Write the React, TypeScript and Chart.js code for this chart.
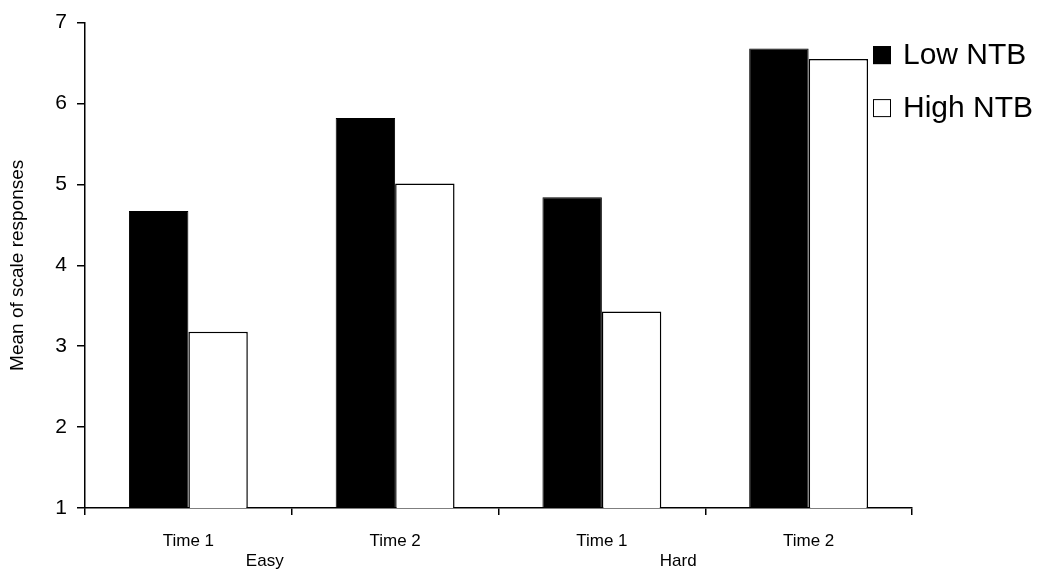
import React, { useEffect, useRef } from 'react';
import { Chart, registerables } from 'chart.js';

Chart.register(...registerables);

const categories = ['Time 1', 'Time 2', 'Time 1', 'Time 2'];
const seriesNames = ['Low NTB', 'High NTB'];
const lowNTB = [4.67, 5.82, 4.84, 6.68];
const highNTB = [3.18, 5.01, 3.43, 6.55];
const seriesColors = ['#000000', '#ffffff'];
const groupLabels = ['Easy', 'Hard'];
const groupSpans = [
  [0, 1],
  [2, 3],
];
const yTicks = [1, 2, 3, 4, 5, 6, 7];
const yTitle = 'Mean of scale responses';

const FONT = '"Liberation Sans", Arial, Helvetica, sans-serif';

const overlayPlugin = {
  id: 'overlay',
  afterDraw(chart: any) {
    const ctx = chart.ctx as CanvasRenderingContext2D;
    const xs = chart.scales.x;
    const area = chart.chartArea;
    ctx.save();
    // group labels under the category labels
    ctx.fillStyle = '#000';
    ctx.font = `17px ${FONT}`;
    ctx.textAlign = 'center';
    ctx.textBaseline = 'middle';
    groupLabels.forEach((g, i) => {
      const [a, b] = groupSpans[i];
      const cx = (xs.getPixelForValue(a) + xs.getPixelForValue(b)) / 2 - 27;
      ctx.fillText(g, cx, xs.bottom - 10);
    });
    // legend at the top right
    ctx.font = `30px ${FONT}`;
    ctx.textAlign = 'left';
    const boxX = area.right - 39;
    chart.data.datasets.forEach((ds: any, i: number) => {
      const cy = area.top + 32 + i * 53;
      ctx.fillStyle = ds.backgroundColor;
      ctx.fillRect(boxX, cy - 8.5, 18, 18);
      ctx.strokeStyle = '#000';
      ctx.lineWidth = 1;
      ctx.strokeRect(boxX + 0.5, cy - 8, 17, 17);
      ctx.fillStyle = '#000';
      ctx.fillText(ds.label, boxX + 30, cy + 1);
    });
    ctx.restore();
  },
};

export default function App() {
  const canvasRef = useRef<HTMLCanvasElement | null>(null);

  useEffect(() => {
    const canvas = canvasRef.current;
    if (!canvas) return;
    const chart = new Chart(canvas, {
      type: 'bar',
      data: {
        labels: categories,
        datasets: [
          {
            label: seriesNames[0],
            data: lowNTB,
            backgroundColor: seriesColors[0],
            borderColor: '#000',
            borderWidth: 1,
          },
          {
            label: seriesNames[1],
            data: highNTB,
            backgroundColor: seriesColors[1],
            borderColor: '#000',
            borderWidth: 1.5,
          },
        ],
      },
      options: {
        responsive: false,
        animation: false,
        devicePixelRatio: 1,
        layout: { padding: { top: 20, right: 135, left: 0, bottom: 0 } },
        datasets: {
          bar: { barPercentage: 1, categoryPercentage: 0.575 },
        },
        plugins: {
          legend: { display: false },
          tooltip: { enabled: false },
        },
        scales: {
          x: {
            offset: true,
            grid: {
              display: true,
              offset: true,
              drawOnChartArea: false,
              drawTicks: true,
              tickLength: 7,
              color: '#000',
              lineWidth: 1.5,
            },
            border: { display: true, color: '#000', width: 1.5 },
            ticks: {
              color: '#000',
              font: { family: FONT, size: 17 },
              padding: 16,
              maxRotation: 0,
            },
            afterFit: (s: any) => {
              s.height = 63;
            },
          },
          y: {
            min: 1,
            max: 7,
            afterBuildTicks: (s: any) => {
              s.ticks = yTicks.map((v) => ({ value: v }));
            },
            grid: {
              drawOnChartArea: false,
              drawTicks: true,
              tickLength: 8,
              color: '#000',
              lineWidth: 1.5,
            },
            border: { display: true, color: '#000', width: 1.5 },
            ticks: {
              color: '#000',
              font: { family: FONT, size: 21 },
              padding: 10,
            },
            title: {
              display: true,
              text: yTitle,
              color: '#000',
              font: { family: FONT, size: 19 },
              padding: { top: 6, bottom: 0 },
            },
            afterFit: (s: any) => {
              s.width = 85;
            },
          },
        },
      },
      plugins: [overlayPlugin],
    });
    return () => chart.destroy();
  }, []);

  return (
    <div style={{ position: 'absolute', left: 0, top: 0, width: 1047, height: 571, background: '#fff' }}>
      <canvas ref={canvasRef} width={1047} height={571} style={{ display: 'block' }} />
    </div>
  );
}
